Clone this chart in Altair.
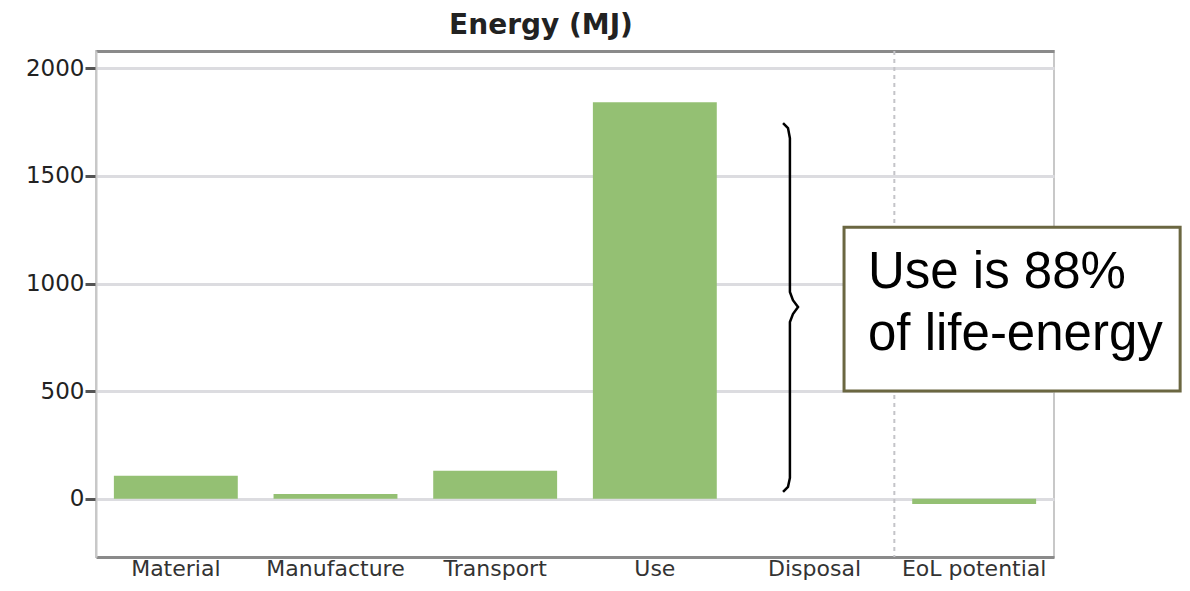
import altair as alt
import pandas as pd

# ---- data ----
categories = ["Material", "Manufacture", "Transport", "Use", "Disposal", "EoL potential"]
energy = [107, 23, 130, 1842, 0, -24]
y_ticks = [0, 500, 1000, 1500, 2000]
y_domain = [-270, 2080]

# annotation geometry in data units (x in category-band units 0..6, y in MJ)
divider_x = [5]
brace_x = [4.303, 4.334, 4.346, 4.346, 4.365, 4.397, 4.365, 4.346, 4.346, 4.334, 4.303]
brace_y = [1745, 1722, 1675, 961, 923, 891, 858, 821, 97, 56, 32]
box_x, box_x2, box_y, box_y2 = 4.685, 6.79, 1262, 501
note_lines = ["Use is 88%", "of life-energy"]
note_x = 4.835
note_y = [979, 691]

W, H = 958, 506

bars_df = pd.DataFrame({"phase": categories, "energy": energy})
div_df = pd.DataFrame({"ax": divider_x})
brace_df = pd.DataFrame({"ax": brace_x, "energy": brace_y, "order": list(range(len(brace_x)))})
box_df = pd.DataFrame({"ax": [box_x], "ax2": [box_x2], "energy": [box_y], "energy2": [box_y2]})
note_df = pd.DataFrame({"ax": [note_x] * 2, "energy": note_y, "text": note_lines})

yscale = alt.Scale(domain=y_domain, nice=False, zero=False)
xq_scale = alt.Scale(domain=[0, 6], nice=False, zero=False)
y_axis = alt.Axis(title=None, values=y_ticks, format="d", grid=True, gridColor="#dcdce0",
                  gridWidth=3, tickColor="#555", tickWidth=3, tickSize=11,
                  domainColor="#c8c8c8", domainWidth=2, labelPadding=1,
                  labelFont="DejaVu Sans", labelFontSize=23, labelColor="#222")


def yenc():
    return alt.Y("energy:Q", scale=yscale, axis=y_axis)


bars = alt.Chart(bars_df).mark_bar(color="#94c073").encode(
    x=alt.X("phase:N", sort=categories,
            scale=alt.Scale(paddingInner=0.224, paddingOuter=0.112),
            axis=alt.Axis(title=None, labelAngle=0, ticks=False, labelPadding=1,
                          domainColor="#8a8a8a", domainWidth=3, grid=False,
                          labelFont="DejaVu Sans", labelFontSize=22, labelColor="#333")),
    y=yenc(),
)

divider = alt.Chart(div_df).mark_rule(color="#c4c4c8", strokeWidth=2, strokeDash=[4, 4]).encode(
    x=alt.X("ax:Q", scale=xq_scale,
            axis=alt.Axis(orient="top", labels=False, ticks=False, grid=False, title=None,
                          domainColor="#8a8a8a", domainWidth=3)),
)

brace = alt.Chart(brace_df).mark_line(color="black", strokeWidth=2.5).encode(
    x=alt.X("ax:Q", scale=xq_scale, axis=None),
    y=yenc(),
    order="order:Q",
)

box = alt.Chart(box_df).mark_rect(fill="white", stroke="#6b6741", strokeWidth=3).encode(
    x=alt.X("ax:Q", scale=xq_scale, axis=None),
    x2="ax2:Q",
    y=yenc(),
    y2="energy2:Q",
)

note = alt.Chart(note_df).mark_text(align="left", baseline="alphabetic", font="Liberation Sans",
                                     fontSize=51, color="black").encode(
    x=alt.X("ax:Q", scale=xq_scale, axis=None),
    y=yenc(),
    text="text:N",
)

chart = alt.layer(bars, divider, brace, box, note).resolve_scale(x="independent").properties(
    width=W, height=H,
    autosize=alt.AutoSizeParams(type="none"),
    padding={"left": 88, "top": 43, "right": 128, "bottom": 26},
    title=alt.TitleParams("Energy (MJ)", font="DejaVu Sans", fontSize=28, fontWeight="bold",
                          anchor="middle", dx=-34, offset=10, color="#222"),
).configure_view(stroke="#c8c8c8", strokeWidth=2)

chart.save("out.html", embed_options={"renderer": "svg", "actions": False})
